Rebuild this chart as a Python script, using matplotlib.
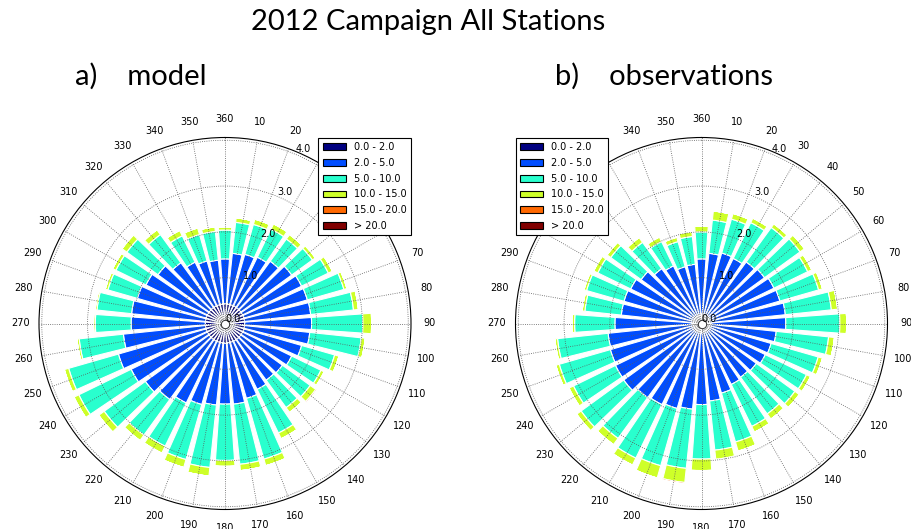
import numpy as np
import matplotlib
matplotlib.use("Agg")
import matplotlib.pyplot as plt
from matplotlib.patches import Patch

directions = np.arange(0, 360, 10)
dir_labels = ["360"] + [str(d) for d in range(10, 360, 10)]
speed_bins = ["0.0 - 2.0", "2.0 - 5.0", "5.0 - 10.0", "10.0 - 15.0", "15.0 - 20.0", "> 20.0"]
radii = [0.0, 1.0, 2.0, 3.0, 4.0]

# frequency (%) per direction sector, one list per wind speed bin
model_0_2 = [0.43, 0.43, 0.43, 0.43, 0.43, 0.43, 0.43, 0.43, 0.43, 0.43, 0.43, 0.43,
             0.43, 0.43, 0.43, 0.43, 0.43, 0.43, 0.43, 0.43, 0.43, 0.43, 0.43, 0.43,
             0.43, 0.43, 0.43, 0.43, 0.43, 0.43, 0.43, 0.43, 0.43, 0.43, 0.43, 0.43]
model_2_5 = [0.98, 1.11, 1.14, 1.18, 1.25, 1.37, 1.43, 1.44, 1.45, 1.46, 1.43, 1.31,
             1.19, 1.12, 1.10, 1.17, 1.27, 1.34, 1.33, 1.36, 1.41, 1.50, 1.62, 1.72,
             1.85, 1.99, 1.80, 1.62, 1.62, 1.56, 1.49, 1.38, 1.21, 1.06, 0.99, 0.96]
model_5_10 = [0.63, 0.68, 0.68, 0.68, 0.60, 0.56, 0.65, 0.83, 0.94, 1.12, 1.13, 0.75,
              0.71, 0.75, 0.74, 1.06, 1.38, 1.32, 1.23, 1.37, 1.25, 1.05, 0.96, 1.11,
              1.27, 1.13, 0.97, 0.78, 0.76, 0.67, 0.73, 0.84, 0.76, 0.64, 0.60, 0.63]
model_10_15 = [0.07, 0.10, 0.12, 0.13, 0.12, 0.08, 0.10, 0.07, 0.11, 0.19, 0.09, 0.10,
               0.08, 0.15, 0.13, 0.14, 0.15, 0.14, 0.13, 0.19, 0.18, 0.17, 0.15, 0.15,
               0.12, 0.10, 0.05, 0.04, 0.04, 0.06, 0.08, 0.13, 0.13, 0.13, 0.15, 0.10]
model_15_20 = [0, 0, 0, 0, 0, 0, 0, 0, 0, 0.02, 0, 0,
               0, 0.03, 0, 0, 0, 0, 0, 0, 0, 0, 0, 0,
               0, 0, 0, 0, 0, 0, 0, 0, 0, 0, 0, 0]
model_20 = [0.0] * 36

obs_0_2 = [0.20, 0.20, 0.20, 0.20, 0.20, 0.20, 0.20, 0.20, 0.20, 0.20, 0.20, 0.20,
           0.20, 0.20, 0.20, 0.20, 0.20, 0.20, 0.20, 0.20, 0.20, 0.20, 0.20, 0.20,
           0.20, 0.20, 0.20, 0.20, 0.20, 0.20, 0.20, 0.20, 0.20, 0.20, 0.20, 0.20]
obs_2_5 = [1.21, 1.34, 1.40, 1.38, 1.46, 1.50, 1.56, 1.58, 1.64, 1.64, 1.44, 1.38,
           1.35, 1.28, 1.25, 1.28, 1.38, 1.50, 1.57, 1.68, 1.73, 1.77, 1.80, 1.90,
           1.89, 1.87, 1.85, 1.69, 1.56, 1.56, 1.52, 1.43, 1.28, 1.20, 1.09, 1.10]
obs_5_10 = [0.59, 0.73, 0.77, 0.87, 0.93, 0.96, 0.82, 0.88, 1.01, 1.18, 1.15, 1.07,
            1.00, 1.04, 0.99, 1.02, 1.11, 1.08, 1.19, 1.30, 1.30, 1.30, 1.10, 1.15,
            1.02, 1.16, 1.11, 0.88, 0.80, 0.85, 0.80, 0.82, 0.71, 0.59, 0.57, 0.61]
obs_10_15 = [0.13, 0.20, 0.13, 0.11, 0.10, 0.12, 0.10, 0.09, 0.14, 0.15, 0.13, 0.10,
             0.10, 0.12, 0.14, 0.14, 0.21, 0.20, 0.25, 0.31, 0.28, 0.17, 0.17, 0.12,
             0.11, 0.08, 0.06, 0.06, 0.06, 0.06, 0.10, 0.10, 0.13, 0.11, 0.10, 0.11]
obs_15_20 = [0, 0, 0, 0, 0, 0, 0, 0, 0, 0, 0, 0,
             0, 0, 0, 0, 0, 0.02, 0.02, 0.03, 0, 0, 0, 0,
             0, 0, 0, 0, 0, 0, 0, 0, 0, 0, 0, 0]
obs_20 = [0.0] * 36

colors = plt.cm.jet(np.linspace(0, 1, len(speed_bins)))


def windrose(ax, bins, legend_loc):
    theta = np.deg2rad(directions)
    width = np.deg2rad(10) * 0.8
    offset = np.zeros(len(directions))
    for vals, c in zip(bins, colors):
        vals = np.asarray(vals, dtype=float)
        ax.bar(theta, vals, width=width, bottom=offset, color=c,
               edgecolor="white", linewidth=0.8, zorder=1)
        offset += vals
    # small ring at the origin
    ax.plot([0], [0], marker="o", ms=6, mfc="white", mec="0.2", mew=0.7, zorder=3)
    ax.set_theta_zero_location("N")
    ax.set_theta_direction(-1)
    ax.set_ylim(0, 4.06)
    ax.set_thetagrids(directions, labels=dir_labels)
    ax.set_yticks(radii)
    ax.set_yticklabels([])
    for r in radii:
        ax.text(np.deg2rad(22.5), r, f"{r:.1f}", ha="left", va="bottom",
                fontsize=7, zorder=4)
    ax.set_axisbelow(False)
    ax.grid(True, color="0.35", linestyle=":", linewidth=0.6)
    ax.tick_params(axis="x", labelsize=7, pad=3)
    ax.spines["polar"].set_linewidth(0.8)
    handles = [Patch(facecolor=c, edgecolor="k", linewidth=0.8) for c in colors]
    leg = ax.legend(handles, speed_bins, loc=legend_loc, fontsize=7,
                    fancybox=False, framealpha=1, edgecolor="k",
                    borderaxespad=0, handlelength=2.4, handletextpad=0.8,
                    labelspacing=0.6, borderpad=0.45)
    leg.get_frame().set_linewidth(0.8)
    leg.set_zorder(10)


fig = plt.figure(figsize=(9.11, 5.29), dpi=100)
ax1 = fig.add_axes([39 / 911, 19.5 / 529, 372 / 911, 372 / 529], projection="polar")
ax2 = fig.add_axes([515 / 911, 19.5 / 529, 373 / 911, 372 / 529], projection="polar")

windrose(ax1, [model_0_2, model_2_5, model_5_10, model_10_15, model_15_20, model_20], "upper right")
windrose(ax2, [obs_0_2, obs_2_5, obs_5_10, obs_10_15, obs_15_20, obs_20], "upper left")

fig.text(0.470, 0.958, "2012 Campaign All Stations", ha="center", va="center",
         fontsize=21, family="Lato")
fig.text(0.082, 0.855, "a)    model", ha="left", va="center", fontsize=21, family="Lato")
fig.text(0.609, 0.855, "b)    observations", ha="left", va="center", fontsize=21, family="Lato")

fig.savefig("out.png", dpi=100)
